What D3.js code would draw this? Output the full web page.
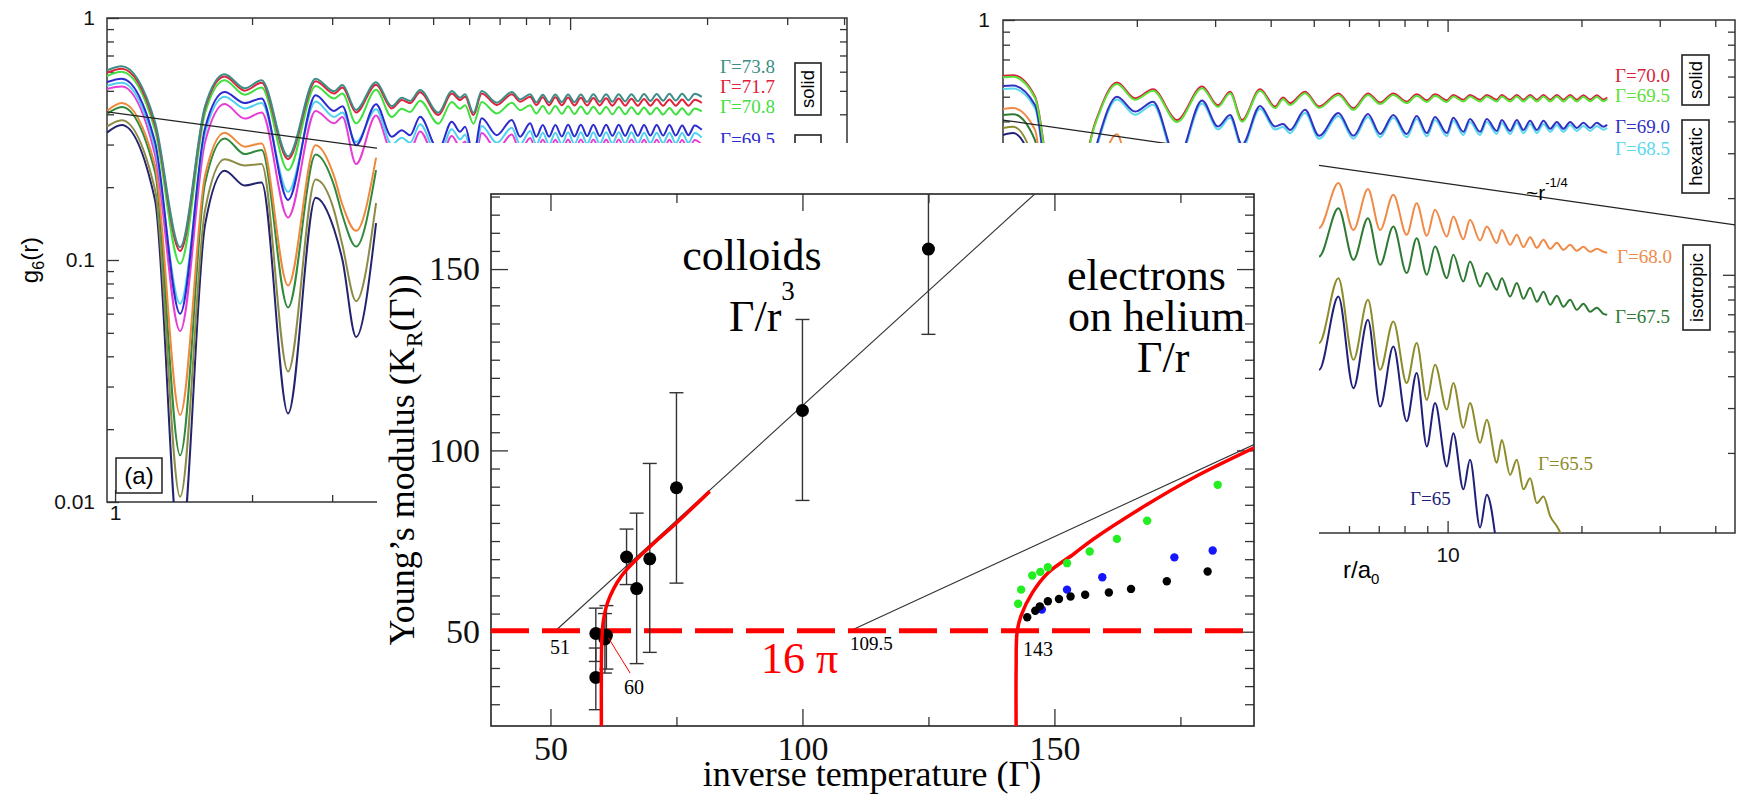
<!DOCTYPE html>
<html>
<head>
<meta charset="utf-8">
<script src="https://d3js.org/d3.v7.min.js"></script>
<style>
  body { margin: 0; background: #fff; }
  svg { display: block; }
</style>
</head>
<body>
<svg width="1738" height="802"></svg>
<script>
const SANS = "'Liberation Sans', Arial, sans-serif";
const SERIF = "'Liberation Serif', 'Times New Roman', serif";

// ---------- background panel (a): g6(r) for colloids ----------
const leftR = [0.96, 1.034, 1.224, 1.390, 1.577, 1.741, 1.928, 2.099, 2.400, 2.759, 3.029, 3.160, 3.386, 3.746,
  4.056, 4.267, 4.451, 4.681, 5.135, 5.495, 5.731, 5.878, 6.132, 6.394, 6.902, 7.446, 7.765, 8.169,
  8.43, 8.71, 8.99, 9.28, 9.59, 9.90, 10.22, 10.56, 10.90, 11.25, 11.62, 12.00, 12.39, 12.79, 13.21,
  13.64, 14.09, 14.54, 15.01, 15.50, 16.01, 16.53, 17.07, 17.63, 18.20, 18.79, 19.47];
const aG738 = [.608, .632, .372, .113, .433, .586, .512, .553, .268, .561, .498, .528, .417, .543,
  .432, .468, .454, .504, .406, .499, .468, .484, .406, .499, .447, .495, .461, .484,
  .448, .482, .448, .483, .449, .483, .449, .483, .450, .484, .451, .484, .451, .484, .452, .484,
  .453, .485, .454, .485, .455, .486, .456, .486, .457, .486, .472];
const aG717 = [.594, .617, .361, .109, .425, .573, .501, .540, .261, .548, .487, .516, .407, .530,
  .423, .458, .444, .493, .397, .488, .458, .473, .397, .488, .437, .484, .451, .473,
  .437, .470, .436, .470, .436, .469, .435, .468, .435, .467, .435, .466, .434, .465, .434, .464,
  .434, .463, .434, .462, .434, .461, .434, .460, .434, .459, .446];
const aG708 = [.576, .599, .344, .0964, .405, .553, .482, .516, .235, .524, .465, .487, .367, .505,
  .390, .422, .409, .455, .366, .450, .422, .436, .366, .450, .403, .446, .416, .436,
  .403, .433, .402, .433, .402, .432, .401, .431, .401, .430, .401, .429, .400, .429, .400, .428,
  .400, .427, .400, .426, .399, .425, .399, .424, .398, .423, .411];
const aG695 = [.543, .561, .307, .060, .351, .494, .445, .465, .177, .479, .413, .432, .298, .440,
  .323, .344, .328, .391, .285, .373, .339, .355, .272, .385, .328, .379, .323, .367,
  .323, .361, .323, .361, .324, .362, .324, .362, .325, .362, .325, .362, .326, .362, .326, .362,
  .326, .361, .327, .361, .327, .361, .327, .360, .328, .360, .345];
const aGcyan = [.524, .540, .290, .066, .335, .473, .423, .445, .191, .452, .390, .407, .307, .420,
  .300, .320, .305, .364, .265, .347, .315, .330, .253, .358, .305, .352, .300, .341,
  .300, .336, .300, .336, .301, .337, .301, .337, .302, .337, .302, .337, .303, .337, .303, .337,
  .303, .336, .304, .336, .304, .336, .304, .335, .305, .335, .321];
const aGmagenta = [.509, .521, .272, .0509, .307, .441, .384, .407, .150, .413, .367, .390, .249, .395,
  .281, .299, .285, .340, .248, .325, .295, .309, .237, .335, .285, .330, .281, .319,
  .281, .314, .281, .314, .282, .315, .282, .315, .283, .315, .283, .315, .284, .315, .284, .315,
  .284, .314, .284, .314, .284, .314, .284, .313, .285, .313, .300];
const aGorange = [.413, .445, .246, .0229, .224, .336, .294, .303, .0784, .298, .222, .169, .132, .265];
const aGdkgreen = [.401, .429, .231, .0156, .208, .318, .274, .285, .0637, .273, .203, .153, .1136, .235];
const aGolive = [.356, .378, .195, .0105, .161, .261, .246, .249, .0346, .215, .160, .115, .0676, .172];
const aGnavy = [.336, .361, .177, .006, .140, .234, .203, .209, .0232, .181, .134, .100, .0481, .142];
const aLabels = ['Γ=73.8', 'Γ=71.7', 'Γ=70.8', 'Γ=69.5'];
const aRefLine = [[0.96, 0.409], [40.6, 0.159]];

// ---------- background panel (b): g6(r) for electrons ----------
const rightR = [1.0, 1.053, 1.180, 1.357, 1.611, 1.805, 1.981, 2.175, 2.464, 2.804, 3.045, 3.241, 3.449,
  3.786, 4.092, 4.265, 4.422, 4.779,
  5.14, 5.68, 6.14, 6.62, 7.05, 7.55, 8.09, 8.52, 8.98, 9.37, 9.96, 10.30, 10.85, 11.23, 11.83, 12.25,
  12.90, 13.24, 13.82, 14.31, 14.81, 15.33, 15.88, 16.43, 17.01, 17.61, 18.22, 18.86, 19.53, 20.21,
  20.92, 21.66, 22.41, 22.85];
const bG700 = [.604, .607, .501, .118, .394, .569, .493, .535, .405, .548, .463, .523, .405, .535, .458, .496, .471, .523,
  .458, .515, .450, .515, .474, .515, .478, .511, .484, .511, .484, .508, .486, .508, .486, .508, .486,
  .508, .486, .508, .486, .508, .486, .508, .486, .508, .486, .508, .486, .507, .487, .507, .487, .497];
const bG695 = [.596, .599, .494, .115, .388, .561, .486, .528, .398, .540, .456, .516, .399, .528, .451, .489, .464, .516,
  .452, .508, .444, .508, .468, .508, .472, .504, .477, .504, .477, .501, .479, .501, .479, .501, .479,
  .501, .479, .501, .479, .501, .479, .501, .479, .501, .479, .501, .479, .500, .480, .500, .480, .490];
const bG690 = [.551, .553, .464, .080, .309, .500, .437, .478, .282, .483, .382, .424, .324, .460, .382, .391, .370, .444,
  .351, .432, .351, .428, .357, .424, .357, .420, .360, .416, .360, .413, .364, .409, .364, .409, .367,
  .405, .367, .405, .370, .402, .370, .402, .374, .398, .374, .398, .377, .395, .377, .395, .381, .388];
const bG685 = [.536, .538, .451, .078, .301, .487, .425, .465, .274, .470, .372, .413, .315, .448, .372, .380, .360, .432,
  .342, .420, .342, .416, .347, .413, .347, .409, .350, .405, .350, .402, .354, .398, .354, .398, .357,
  .394, .357, .394, .360, .391, .360, .391, .364, .387, .364, .387, .367, .384, .367, .384, .371, .378];
const bG680 = [.447, .451, .371, .020, .20, .356, .20, .30, .05, .30, .18, .26, .10, .27, .17, .22, .19, .24,
  .153, .229, .150, .217, .150, .206, .1435, .191, .1422, .180, .1413, .1693, .138, .1643, .1363, .1547,
  .1332, .150, .1311, .1435, .1284, .1405, .1276, .1372, .1265, .1335, .1253, .1311, .1242, .1288,
  .1231, .1265, .1231, .122];
const bG675 = [.424, .427, .338, .015, .17, .30, .17, .27, .04, .27, .15, .23, .08, .24, .14, .19, .16, .20,
  .118, .1826, .1145, .1669, .1094, .1547, .1016, .1393, .100, .1291, .0970, .1198, .0941, .1127, .090,
  .1016, .0873, .097, .0822, .0928, .0805, .0889, .0784, .0858, .0763, .0827, .0749, .0798, .0729,
  .0770, .0716, .0743, .0703, .0697];
const bG655 = [.377, .381, .27, .008, .12, .22, .10, .18, .02, .17, .08, .14, .04, .14, .07, .10, .08, .10,
  .054, .097, .0464, .0798, .0424, .0656, .0376, .054, .0323, .0444, .0296, .0376, .0251, .0314, .0219,
  .027, .0183, .0225, .0164, .0188, .0144, .0159, .0127, .0135, .0113, .0103, .0092];
const bG650 = [.354, .360, .25, .006, .10, .19, .08, .15, .015, .14, .06, .12, .03, .11, .05, .08, .06, .08,
  .0424, .0822, .0359, .0666, .0304, .0523, .0266, .0412, .0212, .0314, .0177, .0239, .0144, .0188,
  .0102, .0137, .0085];
const bLabels = ['Γ=70.0', 'Γ=69.5', 'Γ=69.0', 'Γ=68.5', 'Γ=68.0', 'Γ=67.5', 'Γ=65.5', 'Γ=65'];
const bRefLine = [[1, 0.405], [44.3, 0.157]];

const logMinorX = [2, 3, 4, 5, 6, 7, 8, 9, 20, 30, 40];
const logMinorY = [0.02, 0.03, 0.04, 0.05, 0.06, 0.07, 0.08, 0.09, 0.2, 0.3, 0.4, 0.5, 0.6, 0.7, 0.8, 0.9];

// ---------- main chart: Young's modulus ----------
const colloidG = [59.0, 59.0, 60.8, 61.1, 65.1, 67.1, 69.7, 75.0, 100.0, 125.0];
const colloidK = [49.5, 37.4, 48.0, 49.0, 70.6, 61.9, 70.1, 89.7, 111.0, 155.5];
const colloidLo = [41.8, 28.5, 38.6, 39.7, 63.0, 41.2, 44.3, 63.4, 86.2, 132.0];
const colloidHi = [56.5, 45.5, 55.0, 57.2, 78.3, 82.7, 96.4, 115.9, 136.1, 175.0];

const greenG = [142.8, 143.4, 145.6, 147.2, 148.7, 152.5, 157.0, 162.4, 168.4, 182.4];
const greenK = [57.7, 61.6, 65.5, 66.5, 67.8, 68.9, 72.1, 75.6, 80.6, 90.5];
const blueG = [147.5, 152.5, 159.5, 173.8, 181.4];
const blueK = [56.1, 61.6, 65.0, 70.5, 72.4];
const blackG = [144.6, 146.2, 147.1, 148.7, 150.9, 153.2, 156.1, 160.8, 165.2, 172.3, 180.4];
const blackK = [54.0, 55.8, 57.0, 58.4, 59.0, 59.7, 60.2, 60.8, 61.8, 63.9, 66.6];

const redColloidG = [60.1, 60.1, 60.2, 60.5, 61.0, 61.8, 63.2, 65.1, 69.7, 75.0, 81.6];
const redColloidK = [24, 40, 48, 53, 56.5, 59.7, 63.5, 67.1, 73.4, 80.0, 88.7];
const redElectronG = [142.4, 142.4, 142.6, 143.4, 145.6, 148.7, 153.9, 157.7, 168.3, 177.5, 189.6];
const redElectronK = [24, 40, 50, 54.5, 60.7, 66.2, 71.5, 75.5, 85.0, 92.4, 100.7];

const colloidFit = [[51.0, 50.27], [146.1, 170.7]];
const electronFit = [[109.5, 50.27], [189.6, 101.6]];
const kMin = 16 * Math.PI;

const xMajor = [50, 100, 150];
const xMinor = [75, 125, 175];
const yMajor = [50, 100, 150];
const yMinor = [30, 35, 40, 45, 55, 60, 65, 70, 75, 80, 85, 90, 95, 105, 110, 115, 120, 125, 130, 135,
  140, 145, 155, 160, 165, 170];

const svg = d3.select('svg');

function addAxis(parent, axis, tx, ty, values, size, fmt, pad, fontSize, family) {
  const g = parent.append('g')
    .attr('transform', `translate(${tx},${ty})`)
    .call(axis.tickValues(values).tickSize(-size).tickSizeOuter(0)
      .tickPadding(pad || 3).tickFormat(fmt || (() => '')));
  g.select('.domain').remove();
  g.attr('font-size', fontSize || 20).attr('font-family', family || SANS);
  g.selectAll('.tick line').attr('stroke', '#333').attr('stroke-width', 1.3);
  g.selectAll('.tick text').attr('fill', '#111');
  return g;
}

function rotBox(parent, x, y, w, h, label) {
  parent.append('rect').attr('x', x).attr('y', y).attr('width', w).attr('height', h)
    .attr('fill', '#fff').attr('stroke', '#222').attr('stroke-width', 1.6);
  parent.append('text')
    .attr('transform', `translate(${x + w / 2},${y + h / 2}) rotate(-90)`)
    .attr('text-anchor', 'middle').attr('dy', '0.35em')
    .attr('font-family', SANS).attr('font-size', 18.5).text(label);
}

// ================= panel (a) =================
const ax = d3.scaleLog().domain([0.96, 40.6]).range([107, 847]);
const ay = d3.scaleLog().domain([0.01, 1]).range([502, 18]);
const pa = svg.append('g');
pa.append('clipPath').attr('id', 'clipA').append('rect')
  .attr('x', 107).attr('y', 18).attr('width', 740).attr('height', 484);

addAxis(pa, d3.axisTop(ax), 0, 18, logMinorX, 7);
addAxis(pa, d3.axisTop(ax), 0, 18, [10], 12);
addAxis(pa, d3.axisBottom(ax), 0, 502, logMinorX, 7);
addAxis(pa, d3.axisBottom(ax), 0, 502, [1, 10], 12, d => (d === 1 ? '1' : ''), 3, 21);
addAxis(pa, d3.axisLeft(ay), 107, 0, logMinorY, 7);
addAxis(pa, d3.axisLeft(ay), 107, 0, [0.01, 0.1, 1], 12, d => ({ 1: '1', 0.1: '0.1', 0.01: '0.01' })[d], 12, 21);
addAxis(pa, d3.axisRight(ay), 847, 0, logMinorY, 7);
addAxis(pa, d3.axisRight(ay), 847, 0, [0.1], 12);
pa.append('rect').attr('x', 107).attr('y', 18).attr('width', 740).attr('height', 484)
  .attr('fill', 'none').attr('stroke', '#333').attr('stroke-width', 1.5);

const lineA = d3.line().x((d, i) => ax(leftR[i])).y(d => ay(d)).curve(d3.curveMonotoneX);
const seriesA = [
  { v: aGnavy, c: '#23236f' }, { v: aGolive, c: '#8c8c46' }, { v: aGdkgreen, c: '#2f8a3c' },
  { v: aGorange, c: '#f0883c' }, { v: aGmagenta, c: '#e83cd6' }, { v: aGcyan, c: '#4fd0f0' },
  { v: aG695, c: '#2b2bcf' }, { v: aG708, c: '#3fe03f' }, { v: aG717, c: '#e2203a' },
  { v: aG738, c: '#3b8d86' }
];
const ca = pa.append('g').attr('clip-path', 'url(#clipA)');
ca.selectAll('path.curve').data(seriesA).join('path').attr('class', 'curve')
  .attr('d', s => lineA(s.v)).attr('fill', 'none').attr('stroke', s => s.c).attr('stroke-width', 2);
ca.append('path').attr('d', d3.line().x(d => ax(d[0])).y(d => ay(d[1]))(aRefLine))
  .attr('fill', 'none').attr('stroke', '#222').attr('stroke-width', 1.2);

const aLabelColors = ['#3b8d86', '#e2203a', '#3fe03f', '#2b2bcf'];
const aLabelY = [73, 93, 113, 146];
pa.selectAll('text.glab').data(aLabels).join('text').attr('class', 'glab')
  .attr('x', 720).attr('y', (d, i) => aLabelY[i]).attr('fill', (d, i) => aLabelColors[i])
  .attr('font-family', SERIF).attr('font-size', 19).text(d => d);
rotBox(pa, 795, 63, 26, 52, 'solid');
rotBox(pa, 795, 135, 26, 73, 'hexatic');

const g6a = pa.append('text').attr('transform', 'translate(38,260) rotate(-90)')
  .attr('text-anchor', 'middle').attr('font-family', SANS).attr('font-size', 24);
g6a.append('tspan').text('g');
g6a.append('tspan').attr('font-size', 16).attr('dy', 6).text('6');
g6a.append('tspan').attr('dy', -6).text('(r)');

pa.append('rect').attr('x', 116).attr('y', 458).attr('width', 46).attr('height', 35)
  .attr('fill', '#fff').attr('stroke', '#222').attr('stroke-width', 1.5);
pa.append('text').attr('x', 139).attr('y', 484).attr('text-anchor', 'middle')
  .attr('font-family', SANS).attr('font-size', 24).text('(a)');

// ================= panel (b) =================
const bx = d3.scaleLog().domain([1, 44.3]).range([1003, 1735]);
const by = d3.scaleLog().domain([0.0097, 1]).range([533, 20]);
const pb = svg.append('g');
pb.append('clipPath').attr('id', 'clipB').append('rect')
  .attr('x', 1003).attr('y', 20).attr('width', 732).attr('height', 513);

addAxis(pb, d3.axisTop(bx), 0, 20, logMinorX, 7);
addAxis(pb, d3.axisTop(bx), 0, 20, [10], 12);
addAxis(pb, d3.axisBottom(bx), 0, 533, logMinorX, 7);
addAxis(pb, d3.axisBottom(bx), 0, 533, [10], 12, d => '10', 14, 21);
addAxis(pb, d3.axisLeft(by), 1003, 0, logMinorY, 7);
addAxis(pb, d3.axisLeft(by), 1003, 0, [1], 12, d => '1', 13, 21);
addAxis(pb, d3.axisRight(by), 1735, 0, logMinorY, 7);
addAxis(pb, d3.axisRight(by), 1735, 0, [0.1], 12);
pb.append('rect').attr('x', 1003).attr('y', 20).attr('width', 732).attr('height', 513)
  .attr('fill', 'none').attr('stroke', '#333').attr('stroke-width', 1.5);

const lineB = d3.line().x((d, i) => bx(rightR[i])).y(d => by(d)).curve(d3.curveMonotoneX);
const bColors = ['#d81e3c', '#5ce03a', '#3232c2', '#5ad8ee', '#f08a48', '#2e7a34', '#8c8c2c', '#20207a'];
const seriesB = [
  { v: bG650, c: bColors[7] }, { v: bG655, c: bColors[6] }, { v: bG675, c: bColors[5] },
  { v: bG680, c: bColors[4] }, { v: bG685, c: bColors[3] }, { v: bG690, c: bColors[2] },
  { v: bG700, c: bColors[0] }, { v: bG695, c: bColors[1] }
];
const cb = pb.append('g').attr('clip-path', 'url(#clipB)');
cb.selectAll('path.curve').data(seriesB).join('path').attr('class', 'curve')
  .attr('d', s => lineB(s.v)).attr('fill', 'none').attr('stroke', s => s.c).attr('stroke-width', 2);
cb.append('path').attr('d', d3.line().x(d => bx(d[0])).y(d => by(d[1]))(bRefLine))
  .attr('fill', 'none').attr('stroke', '#222').attr('stroke-width', 1.2);

const bLabelX = [1615, 1615, 1615, 1615, 1617, 1615, 1538, 1410];
const bLabelY = [82, 102, 133, 155, 263, 323, 470, 505];
pb.selectAll('text.glab').data(bLabels).join('text').attr('class', 'glab')
  .attr('x', (d, i) => bLabelX[i]).attr('y', (d, i) => bLabelY[i]).attr('fill', (d, i) => bColors[i])
  .attr('font-family', SERIF).attr('font-size', 19).text(d => d);
rotBox(pb, 1682, 55, 27, 50, 'solid');
rotBox(pb, 1682, 120, 27, 73, 'hexatic');
rotBox(pb, 1683, 245, 27, 85, 'isotropic');

const rq = pb.append('text').attr('x', 1526).attr('y', 200).attr('font-family', SANS).attr('font-size', 21);
rq.append('tspan').text('~r');
rq.append('tspan').attr('font-size', 13).attr('dy', -13).text('-1/4');

const ra = pb.append('text').attr('x', 1343).attr('y', 578).attr('font-family', SANS).attr('font-size', 24);
ra.append('tspan').text('r/a');
ra.append('tspan').attr('font-size', 15).attr('dy', 6).text('0');

// ================= main chart =================
const xC = d3.scaleLinear().domain([38.2, 189.6]).range([491, 1254]);
const yC = d3.scaleLinear().domain([24, 170.7]).range([726, 194]);
const mc = svg.append('g');
mc.append('rect').attr('x', 377).attr('y', 143).attr('width', 942).attr('height', 659).attr('fill', '#fff');
mc.append('clipPath').attr('id', 'clipC').append('rect')
  .attr('x', 491).attr('y', 194).attr('width', 763).attr('height', 532);

addAxis(mc, d3.axisBottom(xC), 0, 726, xMajor, 17, d => d, 10, 34, SERIF);
addAxis(mc, d3.axisBottom(xC), 0, 726, xMinor, 9);
addAxis(mc, d3.axisTop(xC), 0, 194, xMajor, 17);
addAxis(mc, d3.axisTop(xC), 0, 194, xMinor, 9);
addAxis(mc, d3.axisLeft(yC), 491, 0, yMajor, 17, d => d, 11, 34, SERIF);
addAxis(mc, d3.axisLeft(yC), 491, 0, yMinor, 9);
addAxis(mc, d3.axisRight(yC), 1254, 0, yMajor, 17);
addAxis(mc, d3.axisRight(yC), 1254, 0, yMinor, 9);
mc.append('rect').attr('x', 491).attr('y', 194).attr('width', 763).attr('height', 532)
  .attr('fill', 'none').attr('stroke', '#222').attr('stroke-width', 1.6);

const plot = mc.append('g').attr('clip-path', 'url(#clipC)');
const straight = d3.line().x(d => xC(d[0])).y(d => yC(d[1]));
plot.append('path').attr('d', straight(colloidFit)).attr('stroke', '#333').attr('stroke-width', 1.1).attr('fill', 'none');
plot.append('path').attr('d', straight(electronFit)).attr('stroke', '#333').attr('stroke-width', 1.1).attr('fill', 'none');
plot.append('line').attr('x1', xC.range()[0]).attr('x2', xC.range()[1])
  .attr('y1', yC(kMin)).attr('y2', yC(kMin))
  .attr('stroke', '#ff0000').attr('stroke-width', 5).attr('stroke-dasharray', '38,13');

// error bars and colloid points
const eb = plot.append('g').attr('stroke', '#333').attr('stroke-width', 1.4);
colloidG.forEach((g, i) => {
  const x = xC(g);
  eb.append('line').attr('x1', x).attr('x2', x).attr('y1', yC(colloidLo[i])).attr('y2', yC(colloidHi[i]));
  eb.append('line').attr('x1', x - 7).attr('x2', x + 7).attr('y1', yC(colloidLo[i])).attr('y2', yC(colloidLo[i]));
  eb.append('line').attr('x1', x - 7).attr('x2', x + 7).attr('y1', yC(colloidHi[i])).attr('y2', yC(colloidHi[i]));
});
plot.selectAll('circle.col').data(colloidG).join('circle').attr('class', 'col')
  .attr('cx', d => xC(d)).attr('cy', (d, i) => yC(colloidK[i])).attr('r', 6.5).attr('fill', '#000');

// red theory curves
const redLine = d3.line().x(d => xC(d[0])).y(d => yC(d[1])).curve(d3.curveCatmullRom.alpha(0.5));
plot.append('path').attr('d', redLine(redColloidG.map((g, i) => [g, redColloidK[i]])))
  .attr('fill', 'none').attr('stroke', '#ff0000').attr('stroke-width', 3.5);
plot.append('path').attr('d', redLine(redElectronG.map((g, i) => [g, redElectronK[i]])))
  .attr('fill', 'none').attr('stroke', '#ff0000').attr('stroke-width', 3.5);

// electrons on helium
plot.selectAll('circle.gr').data(greenG).join('circle').attr('class', 'gr')
  .attr('cx', d => xC(d)).attr('cy', (d, i) => yC(greenK[i])).attr('r', 4.2).attr('fill', '#22ee22');
plot.selectAll('circle.bl').data(blueG).join('circle').attr('class', 'bl')
  .attr('cx', d => xC(d)).attr('cy', (d, i) => yC(blueK[i])).attr('r', 4.2).attr('fill', '#1515ff');
plot.selectAll('circle.bk').data(blackG).join('circle').attr('class', 'bk')
  .attr('cx', d => xC(d)).attr('cy', (d, i) => yC(blackK[i])).attr('r', 4.2).attr('fill', '#000');

// "60" pointer
plot.append('path').attr('d', straight([[61.5, 48.3], [65.8, 38.6]]))
  .attr('stroke', '#ff0000').attr('stroke-width', 1).attr('fill', 'none');

// annotations
const t = (x, y, s, size, opts = {}) => mc.append('text').attr('x', x).attr('y', y)
  .attr('font-family', SERIF).attr('font-size', size).attr('fill', opts.fill || '#000')
  .attr('text-anchor', opts.anchor || 'start').text(s);
t(560, 654, '51', 20, { anchor: 'middle' });
t(850, 650, '109.5', 19);
t(1023, 656, '143', 20);
t(624, 694, '60', 20);
t(761, 673, '16 π', 44, { fill: '#ff0000' });
t(752, 270, 'colloids', 44, { anchor: 'middle' });
const gr3 = t(729, 331, 'Γ/r', 44);
gr3.append('tspan').attr('font-size', 27).attr('dy', -31).text('3');
t(1067, 290, 'electrons', 44);
t(1068, 331, 'on helium', 44);
t(1137, 372, 'Γ/r', 44);

t(872, 786, 'inverse temperature (Γ)', 36, { anchor: 'middle' });
const yl = mc.append('text').attr('transform', 'translate(414,460) rotate(-90)')
  .attr('text-anchor', 'middle').attr('font-family', SERIF).attr('font-size', 36);
yl.append('tspan').text('Young’s modulus (K');
yl.append('tspan').attr('font-size', 24).attr('dy', 8).text('R');
yl.append('tspan').attr('dy', -8).text('(Γ))');
</script>
</body>
</html>
